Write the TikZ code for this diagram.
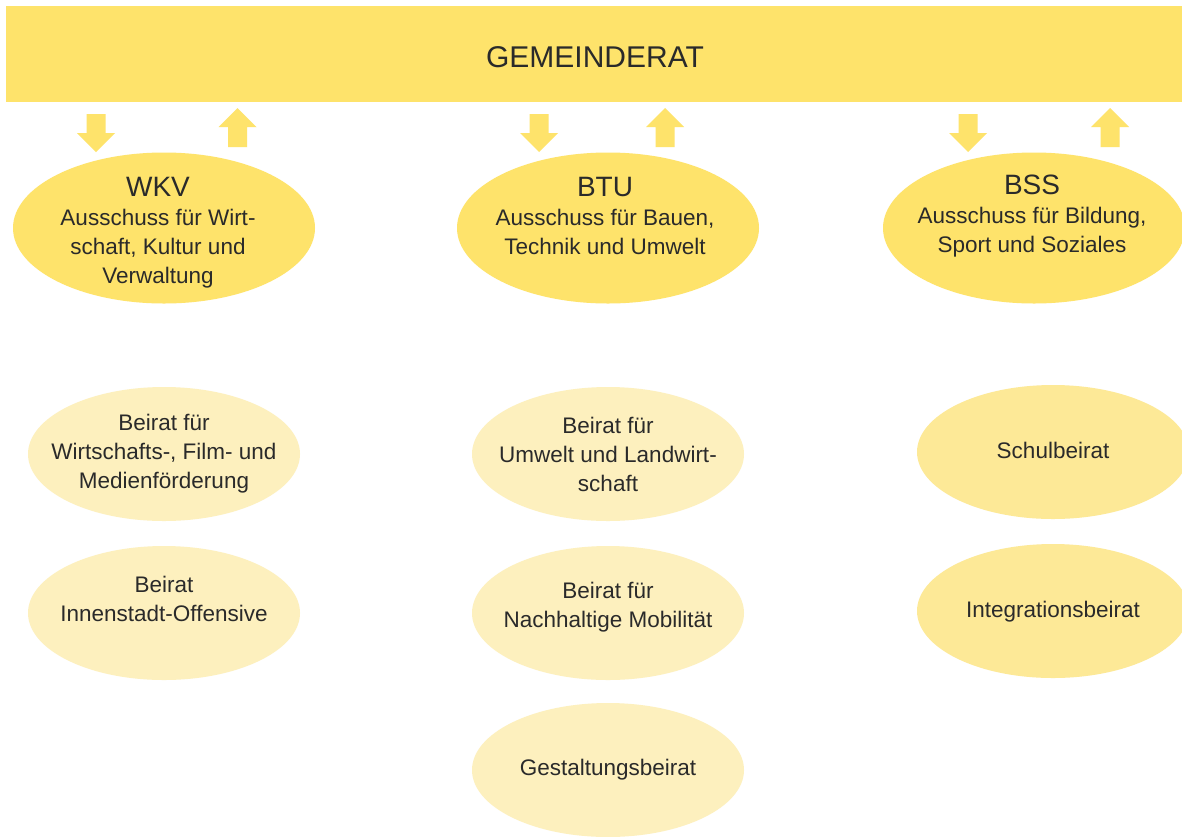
\documentclass[tikz,border=0pt]{standalone}
\usepackage{fontspec}
\setmainfont{Liberation Sans}
\usetikzlibrary{shapes.geometric}
\definecolor{gold}{HTML}{FEE36B}
\definecolor{midyel}{HTML}{FDE997}
\definecolor{paleyel}{HTML}{FDF0BE}
\definecolor{txt}{HTML}{2A2A2A}
\tikzset{
  bodyfont/.style={font=\fontsize{22.5}{29}\selectfont},
  lbl/.style={text=txt, align=center, bodyfont},
  committee/.style={ellipse, fill=gold, minimum width=302pt, minimum height=151pt, inner sep=0pt},
  beirat/.style={ellipse, fill=paleyel, minimum width=272pt, minimum height=134pt, inner sep=0pt},
  beiratb/.style={beirat, fill=midyel},
  downarrow/.pic={\fill[gold] (-9.5,-19) -- (9.5,-19) -- (9.5,0) -- (19,0) -- (0,19) -- (-19,0) -- (-9.5,0) -- cycle;},
  uparrow/.pic={\fill[gold] (-9.5,20) -- (9.5,20) -- (9.5,0) -- (19,0) -- (0,-19) -- (-19,0) -- (-9.5,0) -- cycle;}
}
\newcommand{\headtxt}[1]{{\fontsize{28}{32}\selectfont #1}}
\begin{document}
\begin{tikzpicture}[x=1pt,y=-1pt]
\useasboundingbox (0,0) rectangle (1182,836);
\fill[white] (0,0) rectangle (1182,836);
\node[fill=gold, minimum width=1176pt, minimum height=96pt, inner sep=0pt, anchor=north west] (gr) at (6,6) {};
\node[text=txt, font=\fontsize{30}{34}\selectfont] (grt) at (595,57) {GEMEINDERAT};

\pic at (96,133) {downarrow};
\pic at (237.5,127) {uparrow};
\pic at (539,133) {downarrow};
\pic at (665,127) {uparrow};
\pic at (968,133) {downarrow};
\pic at (1110,127) {uparrow};

\node[committee] (wkv) at (164,228) {};
\node[lbl] (wkvt) at (158,233) {\headtxt{WKV}\\Ausschuss für Wirt-\\schaft, Kultur und\\Verwaltung};
\node[committee] (btu) at (608,228) {};
\node[lbl] (btut) at (605,216) {\headtxt{BTU}\\Ausschuss für Bauen,\\Technik und Umwelt};
\node[committee] (bss) at (1034,228) {};
\node[lbl] (bsst) at (1032,216) {\headtxt{BSS}\\Ausschuss für Bildung,\\Sport und Soziales};

\node[beirat] (w1) at (164,454) {};
\node[lbl] (w1t) at (164,454) {Beirat für\\Wirtschafts-, Film- und\\Medienförderung};
\node[beirat] (w2) at (164,613) {};
\node[lbl] (w2t) at (164,599) {Beirat\\Innenstadt-Offensive};
\node[beirat] (b1) at (608,454) {};
\node[lbl] (b1t) at (608,454) {Beirat für\\Umwelt und Landwirt-\\schaft};
\node[beirat] (b2) at (608,613) {};
\node[lbl] (b2t) at (608,607) {Beirat für\\Nachhaltige Mobilität};
\node[beirat] (b3) at (608,770) {};
\node[lbl] (b3t) at (608,770) {Gestaltungsbeirat};
\node[beiratb] (s1) at (1053,452) {};
\node[lbl] (s1t) at (1053,450) {Schulbeirat};
\node[beiratb] (s2) at (1053,611) {};
\node[lbl] (s2t) at (1053,612) {Integrationsbeirat};
\end{tikzpicture}
\end{document}
